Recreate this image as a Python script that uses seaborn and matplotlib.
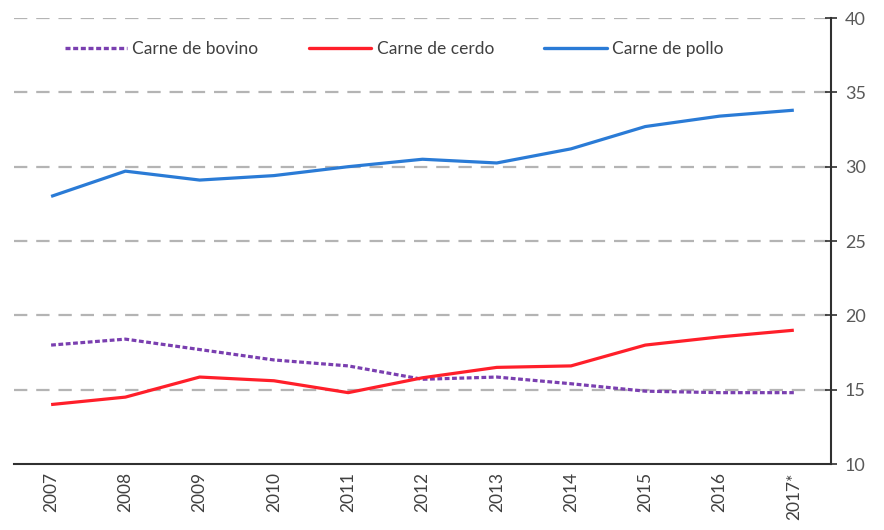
import pandas as pd
import seaborn as sns
import matplotlib.pyplot as plt

years = ["2007", "2008", "2009", "2010", "2011", "2012", "2013", "2014", "2015", "2016", "2017*"]
bovino = [18.0, 18.4, 17.7, 17.0, 16.6, 15.7, 15.85, 15.4, 14.9, 14.8, 14.8]
cerdo = [14.0, 14.5, 15.85, 15.6, 14.8, 15.8, 16.5, 16.6, 18.0, 18.55, 19.0]
pollo = [28.0, 29.7, 29.1, 29.4, 30.0, 30.5, 30.25, 31.2, 32.7, 33.4, 33.8]

series_names = ["Carne de bovino", "Carne de cerdo", "Carne de pollo"]
colors = ["#7a3fb0", "#ff1f2a", "#2a7bd6"]

sns.set_style("white")
plt.rcParams["font.family"] = ["Lato", "DejaVu Sans"]

df = pd.DataFrame({"pos": list(range(len(years))) * 3,
                   "valor": bovino + cerdo + pollo,
                   "serie": [s for s in series_names for _ in years]})

fig = plt.figure(figsize=(8.84, 5.30), dpi=100)
ax = fig.add_axes([0.0158, 0.1245, 0.9242, 0.8415])

# grid lines first so the series sit on top
for v in [15, 20, 25, 30, 35, 40]:
    ax.axhline(v, color="#b4b4b4", lw=1.6, ls=(0, (6, 4)), zorder=0)

sns.lineplot(data=df, x="pos", y="valor", hue="serie", style="serie",
             palette=colors, dashes=[(1.5, 0.8), "", ""], linewidth=2.3,
             ax=ax, legend=False)
for line in ax.lines[-3:]:
    line.set_solid_capstyle("butt")

handles = [plt.Line2D([], [], color=c, lw=2.4,
                      ls=(0, (1.5, 0.8)) if i == 0 else "-")
           for i, c in enumerate(colors)]
ax.legend(handles, series_names, loc="center left", bbox_to_anchor=(0.043, 0.93),
          ncol=3, frameon=False, handlelength=3.6, handletextpad=0.3,
          columnspacing=2.9, fontsize=12.5, labelcolor="#404040")

ax.set_xlim(-0.5, len(years) - 0.5)
ax.set_ylim(10, 40)
ax.set_xticks([i - 0.5 for i in range(len(years) + 1)])
ax.set_xticklabels([])
ax.set_xticks(range(len(years)), minor=True)
ax.set_xticklabels(years, minor=True, rotation=90, fontsize=12.5, color="#404040")
ax.tick_params(axis="x", which="major", direction="inout", length=10, width=1.2, color="#303030")
ax.tick_params(axis="x", which="minor", length=0, pad=6)

ax.yaxis.tick_right()
ax.set_yticks([10, 15, 20, 25, 30, 35, 40])
ax.tick_params(axis="y", direction="inout", length=8, width=1.2, color="#303030",
               labelsize=13, labelcolor="#595959", pad=6)

for side in ["top", "left"]:
    ax.spines[side].set_visible(False)
for side in ["bottom", "right"]:
    ax.spines[side].set_color("#303030")
    ax.spines[side].set_linewidth(1.5)

ax.set_xlabel("")
ax.set_ylabel("")
fig.savefig("out.png", dpi=100)
